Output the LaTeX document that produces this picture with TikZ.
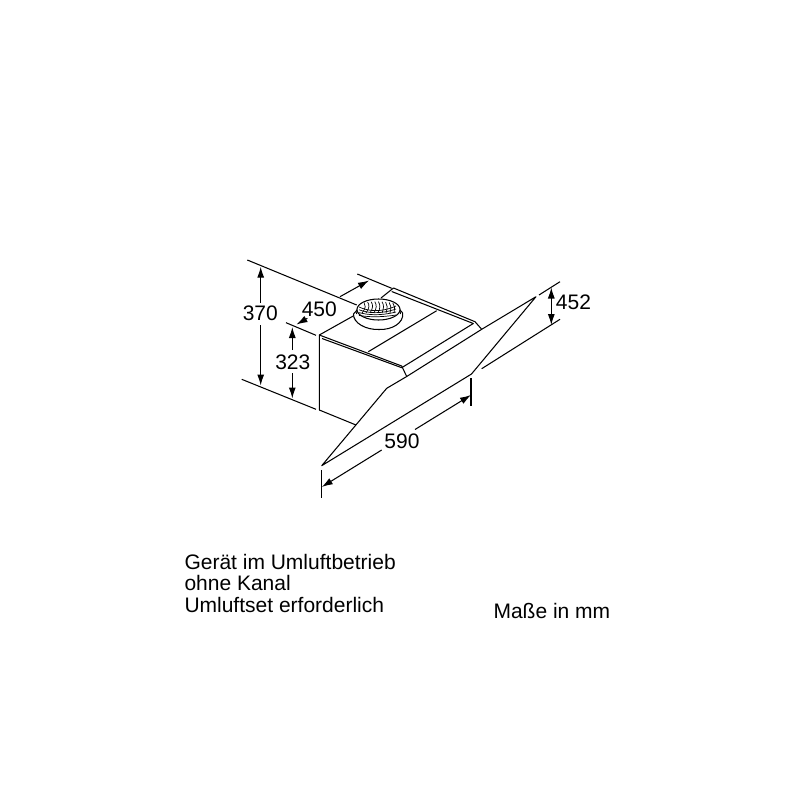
\documentclass[tikz,border=0pt]{standalone}
\usepackage{fontspec}
\usetikzlibrary{arrows.meta}
\setmainfont{Liberation Sans}
\begin{document}
\begin{tikzpicture}[x=1pt, y=-1pt, line width=1pt, >=latex]
\tikzset{
    thinline/.style={line width=1.05pt, line join=round},
    dimarrow/.style={line width=1.05pt, ->, >={Latex[length=11pt,width=7pt]}},
    dimtext/.style={font=\fontsize{21}{22}\selectfont, inner sep=1pt},
    notetext/.style={font=\fontsize{21}{21.7}\selectfont, align=left, anchor=north west, inner sep=0pt}
}
    \useasboundingbox (0,0) rectangle (800,800);

    % Body corners
    \coordinate (BFtop) at (319.3, 335);
    \coordinate (BFbot) at (319.3, 410);
    \coordinate (BLeft) at (356, 425);
    \coordinate (BBackL) at (355, 315);
    \coordinate (BBackD) at (381, 298);
    \coordinate (BBack) at (393.5, 288);
    \coordinate (BBack2) at (391.7, 291.5);
    \coordinate (BRight) at (475, 321.7);
    \coordinate (BRight2) at (473.3, 323.5);
    \coordinate (SFront) at (401.7, 366);
    \coordinate (SFront2) at (401.7, 367.7);
    \coordinate (SFtop2) at (322, 338.5);
    \coordinate (MidA) at (436.7, 310.7);
    \coordinate (MidB) at (368.3, 351.7);

    % Hood corners
    \coordinate (Htip) at (321.7, 465.7);
    \coordinate (Hfold) at (386.7, 388.3);
    \coordinate (Hmid) at (406.7, 376.5);
    \coordinate (Hup) at (481.7, 329.3);
    \coordinate (Htop) at (536, 296.7);
    \coordinate (Hlow) at (471.5, 374);

    % Body
    \draw[thinline] (BFbot) -- (BFtop) -- (SFront) -- (Hmid);
    \draw[thinline] (SFtop2) -- (SFront2) -- (BRight2) -- (BBack2);
    \draw[thinline] (BFbot) -- (BLeft);
    \draw[thinline] (BFtop) -- (BBackL);
    \draw[thinline] (BBackD) -- (BBack) -- (BRight) -- (Hup);
    \draw[thinline] (MidA) -- (MidB);

    % Hood
    \draw[thinline] (Htip) -- (Hfold) -- (Hmid) -- (Hup) -- (Htop) -- (Hlow) -- cycle;

    % Duct
    \draw[thinline, fill=white] (353.5, 314) .. controls (353, 323) and (366, 330) .. (379, 329.5) .. controls (392, 330) and (404, 323) .. (402.7, 313) -- (399, 309) -- (358, 309) -- cycle;
    \draw[thinline] (356.5, 314) arc[start angle=180, end angle=360, x radius=22, y radius=11.5];
    \draw[thinline] (357, 311) arc[start angle=180, end angle=360, x radius=21.5, y radius=11.5];
    \draw[thinline, fill=white] (378.5, 309.5) ellipse[x radius=21.5, y radius=10.5];
    \foreach \i in {0,...,8} {
        \draw[line width=0.7pt] (364+\i*3.6, 302.5-\i*0.5+\i*\i*0.07) .. controls (366+\i*3.6, 305) and (366+\i*3.6, 308) .. (362+\i*4, 313);
    }
    \foreach \i in {0,...,3} {
        \draw[line width=0.7pt] (359, 307+\i*2.8) .. controls (368, 311+\i*2) and (380, 313+\i*1.5) .. (396, 306+\i*3);
    }

    % Extension lines
    \coordinate (E370a) at (247.3, 260);
    \coordinate (E370b) at (356.7, 305);
    \coordinate (E370c) at (241.7, 379.3);
    \coordinate (E370d) at (316, 409.3);
    \coordinate (E323a) at (286, 322.7);
    \coordinate (E323b) at (316, 335.3);
    \coordinate (E450a) at (357.3, 274);
    \coordinate (E450b) at (391.7, 288.3);
    \coordinate (E452a) at (539, 295);
    \coordinate (E452b) at (560, 281.7);
    \coordinate (E452c) at (481.7, 368.7);
    \coordinate (E452d) at (560, 319.3);
    \coordinate (E590a) at (321.7, 470);
    \coordinate (E590b) at (321.7, 498);
    \coordinate (E590c) at (471, 378);
    \coordinate (E590d) at (471, 405.5);
    \draw[thinline] (E370a) -- (E370b);
    \draw[thinline] (E370c) -- (E370d);
    \draw[thinline] (E323a) -- (E323b);
    \draw[thinline] (E450a) -- (E450b);
    \draw[thinline] (E452a) -- (E452b);
    \draw[thinline] (E452c) -- (E452d);
    \draw[thinline] (E590a) -- (E590b);
    \draw[thinline] (E590c) -- (E590d);

    % Arrows
    \coordinate (A370a) at (260.7, 266.7);
    \coordinate (A370b) at (260.7, 385.5);
    \coordinate (G370a) at (260.7, 303);
    \coordinate (G370b) at (260.7, 325);
    \coordinate (A323a) at (292.3, 327);
    \coordinate (A323b) at (292.3, 398.5);
    \coordinate (G323a) at (292.3, 350);
    \coordinate (G323b) at (292.3, 373);
    \coordinate (A450a) at (340, 296.7);
    \coordinate (A450b) at (369, 280.5);
    \coordinate (A450c) at (307.3, 318.3);
    \coordinate (A450d) at (296.5, 324.5);
    \coordinate (A452a) at (551.3, 287.5);
    \coordinate (A452b) at (551.3, 325);
    \coordinate (A590a) at (321.7, 487);
    \coordinate (A590b) at (471, 395);
    \coordinate (G590a) at (381.7, 450);
    \coordinate (G590b) at (415, 429.5);
    \draw[dimarrow] (G370a) -- (A370a);
    \draw[dimarrow] (G370b) -- (A370b);
    \draw[dimarrow] (G323a) -- (A323a);
    \draw[dimarrow] (G323b) -- (A323b);
    \draw[dimarrow] (A450a) -- (A450b);
    \draw[dimarrow] (A450c) -- (A450d);
    \draw[dimarrow, <->] (A452a) -- (A452b);
    \draw[dimarrow] (G590a) -- (A590a);
    \draw[dimarrow] (G590b) -- (A590b);

    % Labels
    \node[dimtext] at (260.3, 313.5) (L370) {370};
    \node[dimtext] at (292.8, 362) (L323) {323};
    \node[dimtext] at (319.3, 309.5) (L450) {450};
    \node[dimtext] at (573.5, 302.5) (L452) {452};
    \node[dimtext] at (402, 441) (L590) {590};

    % Notes
    \node[notetext] at (184, 553.5) (Note) {Gerät im Umluftbetrieb\\ohne Kanal\\Umluftset erforderlich};
    \node[notetext] at (493, 603) (Units) {Maße in mm};

\end{tikzpicture}
\end{document}
